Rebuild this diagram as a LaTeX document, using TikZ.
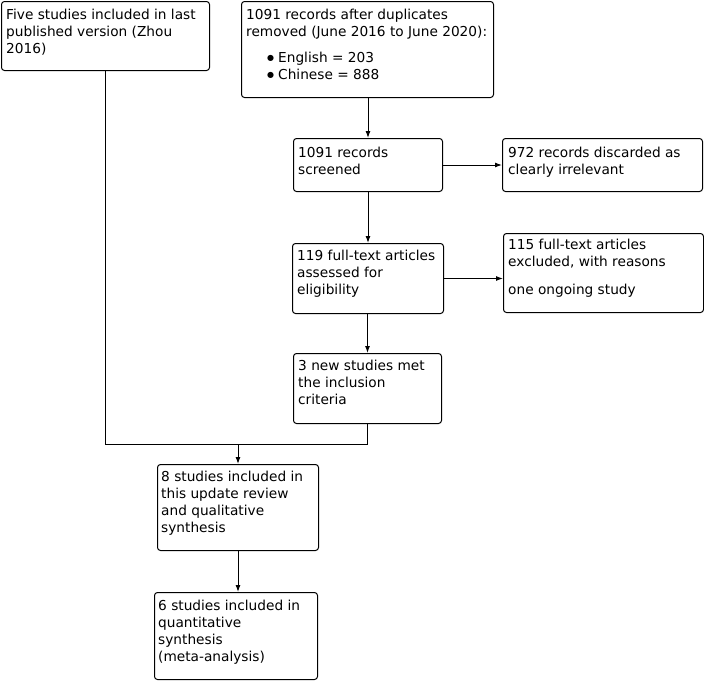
\documentclass[tikz,border=0pt]{standalone}
\usepackage{fontspec}
\setmainfont{DejaVu Sans}
\usetikzlibrary{arrows.meta}
\newcommand\myfs{\fontsize{13.7pt}{17pt}\selectfont}
\newcommand\mybul{\makebox[11pt][l]{\raisebox{2.5pt}{\fontsize{8pt}{8pt}\selectfont ●}}}
\begin{document}
\begin{tikzpicture}[x=1pt,y=-1pt,
  box/.style={draw, line width=1pt, rounded corners=3pt, inner sep=0pt, anchor=north west},
  txt/.style={anchor=north west, inner sep=0pt, align=left, font=\myfs},
  arr/.style={line width=1pt, -{Latex[length=7pt,width=5pt]}},
  ln/.style={line width=1pt}]
\useasboundingbox (0,0) rectangle (704,680);
% boxes
\node[box, minimum width=208pt, minimum height=69pt] (b1) at (1,1) {};
\node[box, minimum width=252pt, minimum height=96pt] (b2) at (241,1) {};
\node[box, minimum width=149pt, minimum height=53pt] (b3) at (293,138) {};
\node[box, minimum width=200pt, minimum height=53pt] (b4) at (502,138) {};
\node[box, minimum width=151pt, minimum height=70pt] (b5) at (292,243) {};
\node[box, minimum width=200pt, minimum height=79pt] (b6) at (503,233) {};
\node[box, minimum width=148pt, minimum height=70pt] (b7) at (293,353) {};
\node[box, minimum width=161pt, minimum height=86pt] (b8) at (157,464) {};
\node[box, minimum width=163pt, minimum height=87pt] (b9) at (154,592) {};
% texts
\node[txt] (t1) at (6,7.6) {\strut Five studies included in last\\published version (Zhou\\2016)};
\node[txt] (t2) at (246,7.6) {\strut 1091 records after duplicates\\removed (June 2016 to June 2020):\\[9pt]\hspace*{21pt}\mybul English = 203\\\hspace*{21pt}\mybul Chinese = 888};
\node[txt] (t3) at (298,145.6) {\strut 1091 records\\screened};
\node[txt] (t4) at (508,145.6) {\strut 972 records discarded as\\clearly irrelevant};
\node[txt] (t5) at (297,248.6) {\strut 119 full-text articles\\assessed for\\eligibility};
\node[txt] (t6) at (508,237.6) {\strut 115 full-text articles\\excluded, with reasons\\[11pt]one ongoing study};
\node[txt] (t7) at (298,358.6) {\strut 3 new studies met\\the inclusion\\criteria};
\node[txt] (t8) at (161,469.6) {\strut 8 studies included in\\this update review\\and qualitative\\synthesis};
\node[txt] (t9) at (158,598.6) {\strut 6 studies included in\\quantitative\\synthesis\\(meta-analysis)};
% connectors
\coordinate (j) at (237,444);
\draw[arr] (b3.north |- b2.south) -- (b3.north);
\draw[arr] (b3.east) -- (b4.west);
\draw[arr] (b3.south) -- (b3.south |- b5.north);
\draw[arr] (b5.east) -- (b5.east -| b6.west);
\draw[arr] (b7.north |- b5.south) -- (b7.north);
\draw[ln] (b1.south) |- (b7.south |- j) -- (b7.south);
\draw[arr] (b8.north |- j) -- (b8.north);
\draw[arr] (b8.south) -- (b8.south |- b9.north);
\end{tikzpicture}
\end{document}
